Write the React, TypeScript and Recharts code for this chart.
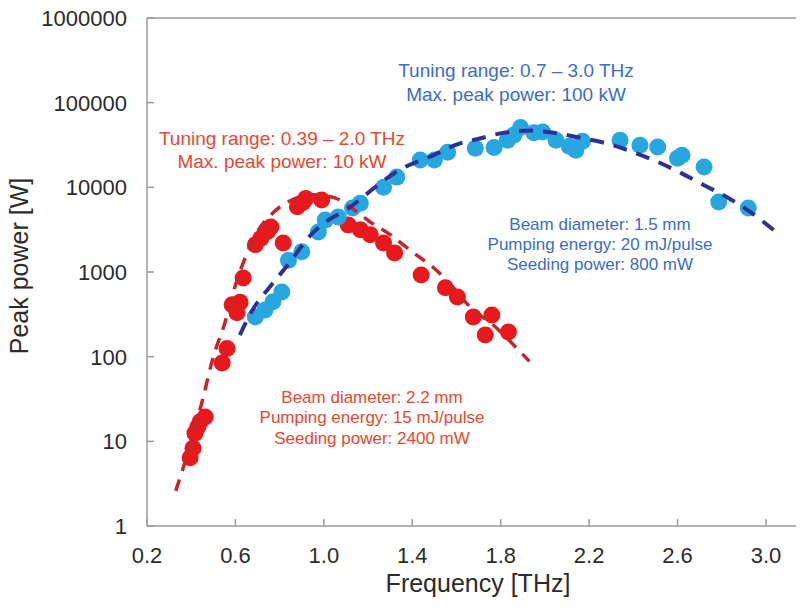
import React from 'react';
import { ComposedChart, Scatter, Line, XAxis, YAxis, ReferenceLine } from 'recharts';

// Measured data points (frequency THz, peak power W)
const redFreq = [0.395, 0.408, 0.417, 0.43, 0.44, 0.463, 0.54, 0.562, 0.585, 0.607, 0.621, 0.635, 0.69, 0.715, 0.745, 0.76, 0.816, 0.88, 0.905, 0.918, 0.99, 1.11, 1.165, 1.21, 1.27, 1.32, 1.44, 1.55, 1.604, 1.676, 1.73, 1.76, 1.835];
const redPower = [6.4, 8.3, 12.5, 14.8, 17, 19.4, 84, 125, 410, 330, 440, 850, 2100, 2500, 3000, 3400, 2200, 5900, 6600, 7400, 7100, 3600, 3150, 2750, 2200, 1680, 920, 650, 507, 295, 180, 310, 195];

const blueFreq = [0.69, 0.734, 0.77, 0.81, 0.84, 0.9, 0.975, 1.006, 1.065, 1.13, 1.165, 1.27, 1.33, 1.436, 1.5, 1.56, 1.685, 1.77, 1.83, 1.86, 1.89, 1.95, 1.99, 2.05, 2.11, 2.14, 2.17, 2.34, 2.43, 2.51, 2.6, 2.62, 2.72, 2.786, 2.92];
const bluePower = [295, 355, 445, 580, 1380, 1730, 2960, 4100, 4450, 5700, 6500, 10000, 13200, 21000, 21000, 26000, 29000, 29500, 36000, 41500, 51000, 44000, 45000, 36000, 30500, 27500, 35000, 36000, 31500, 30000, 22000, 24000, 17400, 6700, 5700];

// Fitted (dashed) curves
const redFitFreq = [0.33, 0.4, 0.45, 0.5, 0.55, 0.6, 0.65, 0.7, 0.77, 0.85, 0.95, 1.05, 1.13, 1.21, 1.3, 1.4, 1.5, 1.56, 1.66, 1.78, 1.85, 1.93];
const redFitPower = [2.6, 10, 30, 100, 240, 700, 1600, 3000, 5000, 7000, 8200, 7500, 5600, 3900, 2750, 1730, 1100, 780, 390, 220, 145, 88];

const blueFitFreq = [0.62, 0.67, 0.77, 0.83, 0.95, 1.02, 1.1, 1.2, 1.27, 1.36, 1.48, 1.6, 1.71, 1.81, 1.94, 2.04, 2.17, 2.28, 2.4, 2.51, 2.61, 2.72, 2.83, 2.93, 3.05];
const blueFitPower = [180, 330, 740, 1150, 2900, 4100, 5400, 8600, 12000, 17000, 23000, 32000, 38000, 44000, 47000, 44000, 38000, 33000, 26000, 20000, 15000, 10600, 7500, 5100, 2900];

const xTicks = [0.2, 0.6, 1.0, 1.4, 1.8, 2.2, 2.6, 3.0];
const yTicks = [1, 10, 100, 1000, 10000, 100000, 1000000];

const toRows = (fs: number[], ps: number[]) => fs.map((f, i) => ({ f, p: ps[i] }));
const redDots = toRows(redFreq, redPower);
const blueDots = toRows(blueFreq, bluePower);
const redFit = toRows(redFitFreq, redFitPower);
const blueFit = toRows(blueFitFreq, blueFitPower);

const FONT = '"Liberation Sans", Arial, Helvetica, sans-serif';
const AXIS = '#9a9a9a';
const TXT = '#2b2b2b';

const XTick = (props: any) => {
  const { x, y, payload } = props;
  return (
    <g>
      <line x1={x} x2={x} y1={y} y2={y - 7} stroke={AXIS} strokeWidth={1.5} />
      <text x={x} y={y + 37} textAnchor="middle" fontSize={22} fill={TXT} fontFamily={FONT}>
        {Number(payload.value).toFixed(1)}
      </text>
    </g>
  );
};

const YTick = (props: any) => {
  const { x, y, payload } = props;
  return (
    <g>
      <line x1={x} x2={x + 7} y1={y} y2={y} stroke={AXIS} strokeWidth={1.5} />
      <text x={x - 20} y={y + 8} textAnchor="end" fontSize={22} fill={TXT} fontFamily={FONT}>
        {String(payload.value)}
      </text>
    </g>
  );
};

const dotShape = (color: string) => (props: any) => (
  <circle cx={props.cx} cy={props.cy} r={8.5} fill={color} />
);

const RED_TXT = '#e9482f';
const BLUE_TXT = '#3d6cc0';

export default function App() {
  return (
    <div style={{ position: 'relative', width: 804, height: 611, margin: -8, background: '#fff' }}>
      <ComposedChart
        width={804}
        height={611}
        margin={{ top: 18, right: 0, bottom: 0, left: 47 }}
      >
        <XAxis
          type="number"
          dataKey="f"
          domain={[0.2, 3.172]}
          ticks={xTicks}
          allowDataOverflow
          height={85}
          tickSize={0}
          tickMargin={0}
          tick={<XTick />}
          axisLine={{ stroke: AXIS, strokeWidth: 1.5 }}
          tickLine={false}
        />
        <YAxis
          type="number"
          dataKey="p"
          scale="log"
          domain={[1, 1000000]}
          ticks={yTicks}
          allowDataOverflow
          width={100}
          tickSize={0}
          tickMargin={0}
          tick={<YTick />}
          axisLine={{ stroke: AXIS, strokeWidth: 1.5 }}
          tickLine={false}
        />
        <ReferenceLine y={1000000} stroke={AXIS} strokeWidth={1.5} />
        <Scatter data={redDots} dataKey="p" fill="#e8191c" shape={dotShape('#e8191c')} isAnimationActive={false} />
        <Scatter data={blueDots} dataKey="p" fill="#27a6e0" shape={dotShape('#27a6e0')} isAnimationActive={false} />
        <Line
          data={redFit}
          dataKey="p"
          type="monotone"
          stroke="#c1272d"
          strokeWidth={3.5}
          strokeDasharray="12 9"
          dot={false}
          activeDot={false}
          isAnimationActive={false}
          zIndex={700}
        />
        <Line
          data={blueFit}
          dataKey="p"
          type="monotone"
          stroke="#2e3192"
          strokeWidth={4}
          strokeDasharray="14 10"
          dot={false}
          activeDot={false}
          isAnimationActive={false}
          zIndex={700}
        />
      </ComposedChart>
      <svg
        width={804}
        height={611}
        style={{ position: 'absolute', left: 0, top: 0, pointerEvents: 'none' }}
        fontFamily={FONT}
      >
        <text x={478} y={592} textAnchor="middle" fontSize={25} fill={TXT}>Frequency [THz]</text>
        <text x={28} y={266} textAnchor="middle" fontSize={25} fill={TXT} transform="rotate(-90, 28, 266)">Peak power [W]</text>

        <text x={282} y={145} textAnchor="middle" fontSize={19} fill={RED_TXT}>Tuning range: 0.39 – 2.0 THz</text>
        <text x={282} y={168} textAnchor="middle" fontSize={19} fill={RED_TXT}>Max. peak power: 10 kW</text>

        <text x={516} y={77} textAnchor="middle" fontSize={19} fill={BLUE_TXT}>Tuning range: 0.7 – 3.0 THz</text>
        <text x={516} y={101} textAnchor="middle" fontSize={19} fill={BLUE_TXT}>Max. peak power: 100 kW</text>

        <text x={372} y={403} textAnchor="middle" fontSize={17} fill={RED_TXT}>Beam diameter: 2.2 mm</text>
        <text x={372} y={423} textAnchor="middle" fontSize={17} fill={RED_TXT}>Pumping energy: 15 mJ/pulse</text>
        <text x={372} y={444} textAnchor="middle" fontSize={17} fill={RED_TXT}>Seeding power: 2400 mW</text>

        <text x={600} y={230} textAnchor="middle" fontSize={17} fill={BLUE_TXT}>Beam diameter: 1.5 mm</text>
        <text x={600} y={250} textAnchor="middle" fontSize={17} fill={BLUE_TXT}>Pumping energy: 20 mJ/pulse</text>
        <text x={600} y={270} textAnchor="middle" fontSize={17} fill={BLUE_TXT}>Seeding power: 800 mW</text>
      </svg>
    </div>
  );
}
